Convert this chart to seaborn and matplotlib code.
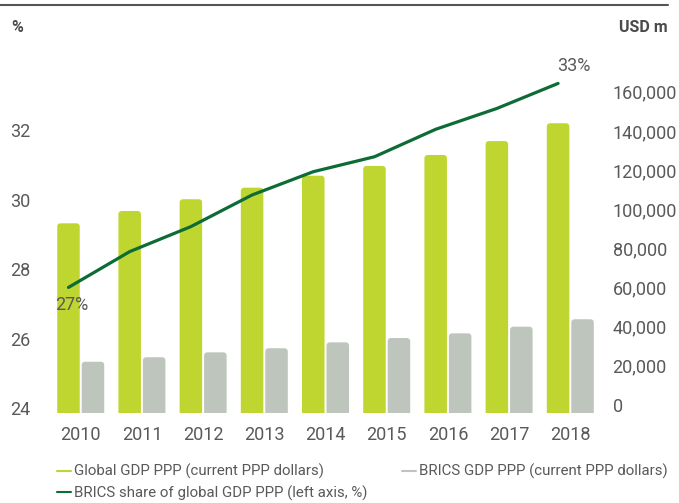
import numpy as np
import pandas as pd
import matplotlib
matplotlib.use("Agg")
import matplotlib.pyplot as plt
import seaborn as sns
from matplotlib.lines import Line2D
from matplotlib.patches import FancyBboxPatch
from matplotlib.ticker import FuncFormatter, FixedLocator

# ---------------- data ----------------
years = ["2010", "2011", "2012", "2013", "2014", "2015", "2016", "2017", "2018"]
global_gdp = [92800, 99100, 105100, 111000, 117100, 122100, 127700, 134800, 143900]
brics_gdp = [22100, 24400, 26900, 29000, 32000, 34200, 36600, 40000, 43800]
brics_share = [27.47, 28.50, 29.22, 30.13, 30.80, 31.23, 32.02, 32.62, 33.34]
left_ticks = [24, 26, 28, 30, 32]
right_ticks = [0, 20000, 40000, 60000, 80000, 100000, 120000, 140000, 160000]
series_labels = [
    "Global GDP PPP (current PPP dollars)",
    "BRICS GDP PPP (current PPP dollars)",
    "BRICS share of global GDP PPP (left axis, %)",
]

# ---------------- style ----------------
GREEN = "#BED62F"
GREY = "#BEC5BD"
DARK = "#0D6B36"
TEXT = "#58595B"

sns.set_style("white")
plt.rcParams["font.family"] = ["Roboto", "DejaVu Sans"]
plt.rcParams["text.color"] = TEXT
plt.rcParams["xtick.color"] = TEXT
plt.rcParams["ytick.color"] = TEXT

df = pd.DataFrame({
    "year": years * 2,
    "value": global_gdp + brics_gdp,
    "series": [series_labels[0]] * len(years) + [series_labels[1]] * len(years),
})

fig = plt.figure(figsize=(6.79, 5.03), dpi=100)
ax = fig.add_axes([0.0648, 0.1789, 0.8292, 0.7018])

sns.barplot(data=df, x="year", y="value", hue="series", order=years,
            hue_order=series_labels[:2], palette=[GREEN, GREY],
            width=0.8, gap=0.08, ax=ax, legend=False, saturation=1,
            edgecolor="none", linewidth=0)

r_lo, r_hi = -4086, 176200
ax.set_ylim(r_lo, r_hi)
ax.set_xlim(-0.6, 8.6)
ax.set_xlabel("")
ax.set_ylabel("")

# bars grow from the bottom edge of the plot area, with softly rounded tops
bbox = ax.get_position()
px_w = bbox.width * fig.get_figwidth() * fig.dpi
px_h = bbox.height * fig.get_figheight() * fig.dpi
x_per_px = 9.2 / px_w
y_per_px = (r_hi - r_lo) / px_h
aspect = y_per_px / x_per_px
radius = 3.5 * x_per_px
for p in list(ax.patches):
    top = p.get_y() + p.get_height()
    base = r_lo - 20 * y_per_px
    fb = FancyBboxPatch((p.get_x(), base), p.get_width(), top - base,
                        boxstyle=f"round,pad=0,rounding_size={radius}",
                        mutation_aspect=aspect, facecolor=p.get_facecolor(),
                        edgecolor="none", linewidth=0)
    p.remove()
    ax.add_patch(fb)

ax2 = ax.twinx()
line_x = np.arange(len(years)) - 0.2
sns.lineplot(x=line_x, y=brics_share, color=DARK, linewidth=2.3, ax=ax2)
ax2.set_ylim(23.856, 34.014)
ax2.set_xlim(-0.6, 8.6)
ax2.set_ylabel("")

# right axis (USD m) belongs to the bars, left axis (%) to the line
ax.yaxis.tick_right()
ax.yaxis.set_major_locator(FixedLocator(right_ticks))
ax.yaxis.set_major_formatter(FuncFormatter(lambda v, _: f"{int(v):,}"))
ax.tick_params(axis="y", length=0, pad=4.0, labelsize=13)
ax.tick_params(axis="x", length=0, pad=9.5, labelsize=13)

ax2.yaxis.tick_left()
ax2.yaxis.set_major_locator(FixedLocator(left_ticks))
ax2.yaxis.set_major_formatter(FuncFormatter(lambda v, _: f"{int(v)}"))
ax2.tick_params(axis="y", length=0, pad=10, labelsize=13)

ax2.annotate(f"{round(brics_share[0])}%", xy=(line_x[0], brics_share[0]),
             xytext=(2, -12.5), textcoords="offset points",
             ha="center", va="center", fontsize=13, color=TEXT)
ax2.annotate(f"{round(brics_share[-1])}%", xy=(line_x[-1], brics_share[-1]),
             xytext=(11, 12.5), textcoords="offset points",
             ha="center", va="center", fontsize=13, color=TEXT)

for a in (ax, ax2):
    for s in a.spines.values():
        s.set_visible(False)
    a.grid(False)

# axis unit titles
fig.text(11 / 679, 1 - 27 / 503, "%", ha="left", va="center",
         fontsize=11.5, fontweight="bold", color="#4A4A4C")
fig.text(668 / 679, 1 - 27 / 503, "USD m", ha="right", va="center",
         fontsize=11.5, fontweight="bold", color="#4A4A4C")

# top rule
fig.add_artist(Line2D([0, 668 / 679], [1 - 5 / 503, 1 - 5 / 503],
                      color="#555555", linewidth=1.5))

# legend
handles = [
    Line2D([], [], color=GREEN, linewidth=1.5),
    Line2D([], [], color=DARK, linewidth=1.5),
    Line2D([], [], color=GREY, linewidth=1.5),
]
labels = [series_labels[0], series_labels[2], series_labels[1]]
fig.legend(handles, labels, loc="upper left",
           bbox_to_anchor=(57 / 679, 1 - 464 / 503), ncol=2,
           frameon=False, fontsize=10.8, handlelength=0.9, handletextpad=0.25,
           columnspacing=2.3, labelspacing=0.42, borderpad=0, borderaxespad=0,
           labelcolor=TEXT)

fig.savefig("out.png", dpi=100)
